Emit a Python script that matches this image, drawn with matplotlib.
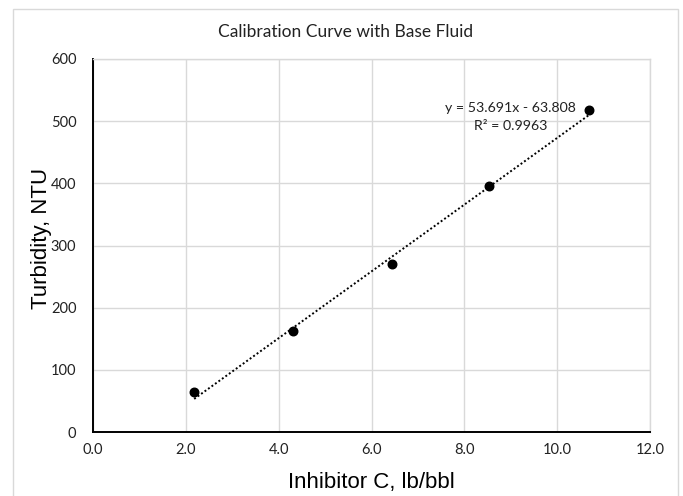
import matplotlib
matplotlib.use("Agg")
import matplotlib.pyplot as plt
from matplotlib.patches import Rectangle
import numpy as np

# readings
inhibitor_c = [2.18, 4.31, 6.45, 8.54, 10.68]
turbidity = [65, 162, 270, 395, 518]

# excel linear trendline shown on the chart
slope = 53.691
intercept = -63.808
r_squared = 0.9963

x_ticks = [0, 2, 4, 6, 8, 10, 12]
y_ticks = [0, 100, 200, 300, 400, 500, 600]

grid_color = "#d9d9d9"
label_font = "Lato"

fig = plt.figure(figsize=(6.83, 4.96), dpi=100)
ax = fig.add_axes([93 / 683, 1 - 432 / 496, (650 - 93) / 683, (432 - 59) / 496])

# outer chart frame
fig.patches.append(Rectangle((13 / 683, -0.05), (678 - 13) / 683, 1.05 - 9 / 496,
                             transform=fig.transFigure, fill=False,
                             edgecolor=grid_color, linewidth=1.0))

ax.scatter(inhibitor_c, turbidity, s=38, color="black", zorder=3)

trend_x = np.array([min(inhibitor_c), max(inhibitor_c)])
ax.plot(trend_x, slope * trend_x + intercept, color="black", linestyle=(0, (1, 1.2)),
        linewidth=1.4, zorder=2)

ax.text(9.0, 507, f"y = {slope}x - {abs(intercept)}\nR² = {r_squared}",
        ha="center", va="center", fontsize=10.2, family=label_font,
        color="#222222", linespacing=1.65)

ax.set_xlim(0, 12)
ax.set_ylim(0, 600)
ax.set_xticks(x_ticks)
ax.set_xticklabels([f"{v:.1f}" for v in x_ticks])
ax.set_yticks(y_ticks)
ax.set_yticklabels([str(v) for v in y_ticks])
ax.tick_params(length=0, labelsize=10.5, colors="#222222")
ax.tick_params(axis="y", pad=12)
ax.tick_params(axis="x", pad=8)
for lab in ax.get_xticklabels() + ax.get_yticklabels():
    lab.set_family(label_font)

ax.grid(True, color=grid_color, linewidth=1.0)
ax.set_axisbelow(True)
for side in ["top", "right"]:
    ax.spines[side].set_color(grid_color)
    ax.spines[side].set_linewidth(1.0)
for side in ["left", "bottom"]:
    ax.spines[side].set_color("black")
    ax.spines[side].set_linewidth(1.4)

ax.set_xlabel("Inhibitor C, lb/bbl", fontsize=16, family="Liberation Sans", labelpad=11)
ax.set_ylabel("Turbidity, NTU", fontsize=16, family="Liberation Sans")
ax.yaxis.set_label_coords(-0.074, 0.52)
fig.text(346 / 683, 1 - 32 / 496, "Calibration Curve with Base Fluid",
         ha="center", va="center", fontsize=12.5, family=label_font, color="#222222")

fig.savefig("out.png", dpi=100)
